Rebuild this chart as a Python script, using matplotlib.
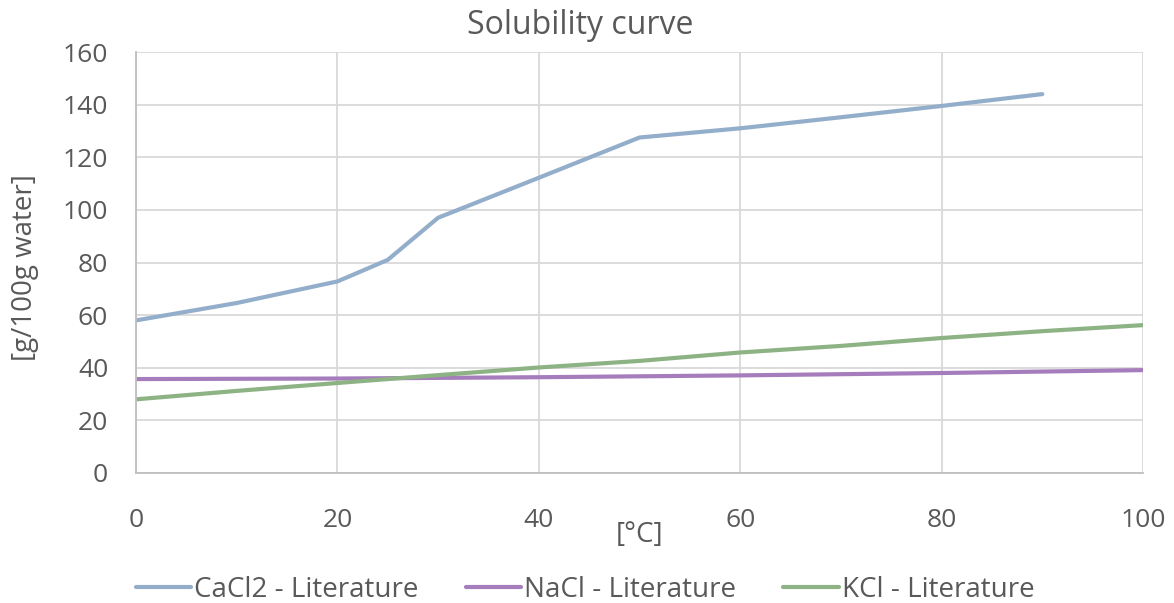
import matplotlib
matplotlib.use("Agg")
import matplotlib.pyplot as plt

# Solubility data, g per 100 g water
cacl2_temp = [0, 10, 20, 25, 30, 40, 50, 60, 70, 80, 90]
cacl2_sol = [58.0, 64.6, 72.8, 81.0, 97.0, 112.2, 127.5, 131.0, 135.2, 139.5, 144.0]

nacl_temp = [0, 20, 40, 60, 80, 100]
nacl_sol = [35.7, 35.9, 36.4, 37.1, 38.0, 39.1]

kcl_temp = [0, 10, 20, 30, 40, 50, 60, 70, 80, 90, 100]
kcl_sol = [28.0, 31.2, 34.2, 37.2, 40.1, 42.6, 45.8, 48.3, 51.3, 53.9, 56.2]

series_labels = ["CaCl2 - Literature", "NaCl - Literature", "KCl - Literature"]
series_colors = ["#93AECB", "#A67DBC", "#8DB385"]

x_ticks = [0, 20, 40, 60, 80, 100]
y_ticks = [0, 20, 40, 60, 80, 100, 120, 140, 160]

plt.rcParams["font.family"] = ["Open Sans", "DejaVu Sans"]
text_color = "#595959"

W, H = 1174, 603
fig = plt.figure(figsize=(W / 100, H / 100), dpi=100)
ax = fig.add_axes([136 / W, 1 - 473 / H, (1143 - 136) / W, (473 - 52) / H])

for xs, ys, lab, col in zip([cacl2_temp, nacl_temp, kcl_temp],
                            [cacl2_sol, nacl_sol, kcl_sol],
                            series_labels, series_colors):
    ax.plot(xs, ys, color=col, lw=3.0, label=lab, solid_capstyle="round",
            solid_joinstyle="round")

ax.set_xlim(0, 100)
ax.set_ylim(0, 160)
ax.set_xticks(x_ticks)
ax.set_yticks(y_ticks)
ax.grid(True, color="#D9D9D9", lw=1.3)
ax.set_axisbelow(True)
for s in ["top", "right"]:
    ax.spines[s].set_visible(False)
for s in ["left", "bottom"]:
    ax.spines[s].set_color("#BFBFBF")
    ax.spines[s].set_linewidth(1.3)
ax.tick_params(length=0, labelsize=19, labelcolor=text_color)
ax.tick_params(axis="x", pad=25)
ax.tick_params(axis="y", pad=20)

fig.text(580 / W, 1 - 25 / H, "Solubility curve", ha="center", va="center",
         fontsize=23, color=text_color)
fig.text(640 / W, 1 - 535 / H, "[°C]", ha="center", va="center",
         fontsize=20, color=text_color)
fig.text(25 / W, 1 - 268 / H, "[g/100g water]", ha="center", va="center",
         rotation=90, fontsize=20, color=text_color)

leg = fig.legend(loc="center", bbox_to_anchor=(585 / W, 1 - 590 / H), ncol=3,
                 frameon=False, fontsize=20, handlelength=2.0, handletextpad=0.1,
                 columnspacing=1.7, labelcolor=text_color)

fig.savefig("out.png", dpi=100)
